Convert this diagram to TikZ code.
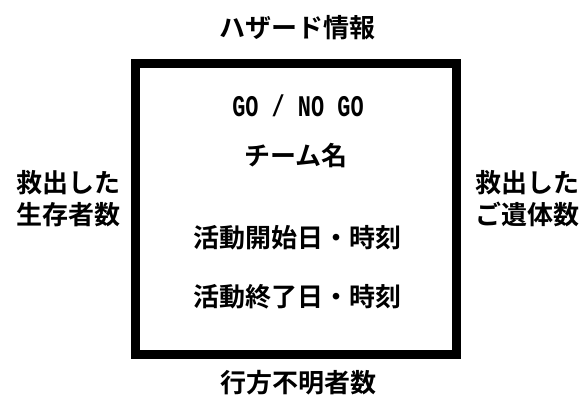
\documentclass[tikz,border=0pt]{standalone}
\usepackage{fontspec}
\setmainfont{Noto Sans CJK JP}[BoldFont={* Bold}]
\newfontfamily\gomono{Liberation Mono}
\begin{document}
\begin{tikzpicture}[x=1pt,y=-1pt,
  lbl/.style={inner sep=0pt, font=\fontsize{26}{32}\selectfont\bfseries},
  frame/.style={draw, line width=9pt, inner sep=0pt, minimum width=320.5pt, minimum height=290.5pt}]
\useasboundingbox (0,0) rectangle (583,400);
\node[frame] (box) at (295.75,208.75) {};
\node[lbl] (hazard) at (297,28) {ハザード情報};
\node[lbl] (go) at (298,106) {\scalebox{0.73}[1]{\gomono\fontsize{30}{32}\selectfont\bfseries GO / NO GO}};
\node[lbl] (team) at (296,156) {チーム名};
\node[lbl] (start) at (297.5,238) {活動開始日・時刻};
\node[lbl] (end) at (297.5,297) {活動終了日・時刻};
\node[lbl] (missing) at (298,383) {行方不明者数};
\node[lbl, align=center] (alive) at (68.5,199) {救出した\\生存者数};
\node[lbl, align=center] (dead) at (527,199) {救出した\\ご遺体数};
\end{tikzpicture}
\end{document}
